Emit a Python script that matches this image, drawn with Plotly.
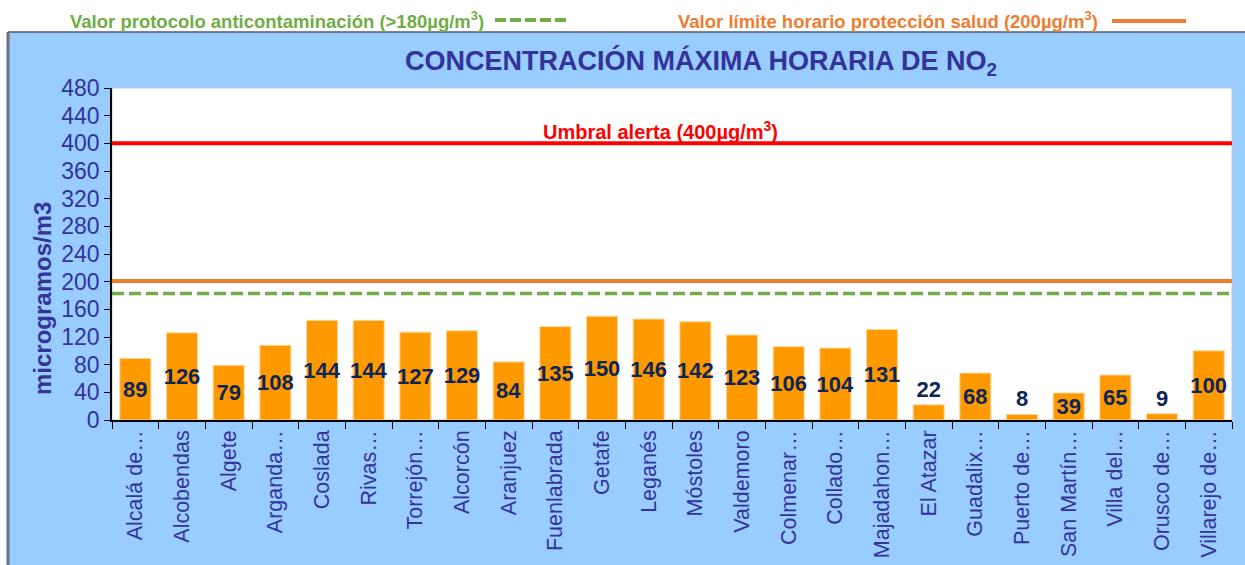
import plotly.graph_objects as go

stations = ["Alcalá de…", "Alcobendas", "Algete", "Arganda…", "Coslada", "Rivas…",
            "Torrejón…", "Alcorcón", "Aranjuez", "Fuenlabrada", "Getafe", "Leganés",
            "Móstoles", "Valdemoro", "Colmenar…", "Collado…", "Majadahon…", "El Atazar",
            "Guadalix…", "Puerto de…", "San Martín…", "Villa del…", "Orusco de…", "Villarejo de…"]
no2_max = [89, 126, 79, 108, 144, 144, 127, 129, 84, 135, 150, 146, 142, 123, 106, 104,
           131, 22, 68, 8, 39, 65, 9, 100]
y_ticks = list(range(0, 481, 40))
alert_level = 400
health_limit = 201
protocol_level = 183

W, H = 1245, 565
L, R, T, B = 112, 13, 88, 145
pw, ph = W - L - R, H - T - B


def px(x):
    return (x - L) / pw


def py(y):
    return (H - B - y) / ph


TXT = "#333399"
LBL = "#0d2557"
FONT = "Liberation Sans"

fig = go.Figure()
fig.add_trace(go.Bar(
    x=stations, y=no2_max, width=0.665,
    marker=dict(color="#FF9900", line=dict(color="#FFD699", width=1)),
    text=[str(v) for v in no2_max],
    textposition=["outside" if v < 30 else "inside" for v in no2_max],
    insidetextanchor="middle",
    textangle=0,
    constraintext="none",
    cliponaxis=False,
    textfont=dict(family=FONT, size=22, color=LBL, weight="bold"),
    showlegend=False,
))

n = len(stations)
for val, col, dash, wdt in [(alert_level, "#FF0000", "solid", 4),
                            (health_limit, "#ED7D31", "solid", 4),
                            (protocol_level, "#70AD47", "12px,5px", 3.5)]:
    fig.add_shape(type="line", xref="x", yref="y", x0=-0.5, x1=n - 0.5, y0=val, y1=val,
                  line=dict(color=col, width=wdt, dash=dash))

shapes_bg = [
    dict(type="rect", xref="paper", yref="paper", x0=px(8), x1=px(1250), y0=py(570), y1=py(32),
         fillcolor="#99CCFF", line=dict(width=0), layer="below"),
    dict(type="rect", xref="paper", yref="paper", x0=0, x1=1, y0=0, y1=1,
         fillcolor="white", line=dict(color="#C8C8C8", width=1), layer="below"),
    dict(type="line", xref="paper", yref="paper", x0=px(8), x1=px(1250), y0=py(32), y1=py(32),
         line=dict(color="#555a66", width=1.5), layer="below"),
    dict(type="line", xref="paper", yref="paper", x0=px(8), x1=px(8), y0=py(32), y1=py(570),
         line=dict(color="#6b7080", width=3), layer="below"),
    dict(type="line", xref="paper", yref="paper", x0=px(495), x1=px(568), y0=py(20), y1=py(20),
         line=dict(color="#70AD47", width=4, dash="11px,4px")),
    dict(type="line", xref="paper", yref="paper", x0=px(1112), x1=px(1186), y0=py(21), y1=py(21),
         line=dict(color="#ED7D31", width=4)),
]
for s in shapes_bg:
    fig.add_shape(**s)

ann = [
    dict(x=px(68), y=py(20), xanchor="left", yanchor="middle",
         text="Valor protocolo anticontaminación (>180µg/m<sup>3</sup>)",
         font=dict(family=FONT, size=18.5, color="#70AD47", weight="bold")),
    dict(x=px(676), y=py(20), xanchor="left", yanchor="middle",
         text="Valor límite horario protección salud (200µg/m<sup>3</sup>)",
         font=dict(family=FONT, size=18.5, color="#ED7D31", weight="bold")),
    dict(x=px(701), y=py(63), xanchor="center", yanchor="middle",
         text="CONCENTRACIÓN MÁXIMA HORARIA DE NO<sub>2</sub>",
         font=dict(family=FONT, size=27, color=TXT, weight="bold")),
    dict(x=px(660), y=py(130), xanchor="center", yanchor="middle",
         text="Umbral alerta (400µg/m<sup>3</sup>)",
         font=dict(family=FONT, size=20, color="#FF0000", weight="bold")),
    dict(x=px(42), y=py(299), xanchor="center", yanchor="middle", textangle=-90,
         text="microgramos/m3",
         font=dict(family=FONT, size=24, color=TXT, weight="bold")),
]
for a in ann:
    fig.add_annotation(xref="paper", yref="paper", showarrow=False, **a)

fig.update_layout(
    width=W, height=H,
    margin=dict(l=L, r=R, t=T, b=B, autoexpand=False),
    paper_bgcolor="white", plot_bgcolor="rgba(0,0,0,0)",
    font=dict(family=FONT, color=TXT),
)
fig.update_xaxes(
    type="category", tickangle=-90, tickson="boundaries", ticks="outside", ticklen=7,
    tickcolor="black", showline=True, linecolor="black", linewidth=1.5,
    tickfont=dict(family=FONT, size=21.5, color=TXT),
    showgrid=False, range=[-0.5, n - 0.5], automargin=False,
)
fig.update_yaxes(
    range=[0, 480], tickvals=y_ticks, ticks="outside", ticklen=6, tickcolor="black",
    showline=True, linecolor="black", linewidth=1.5, showgrid=False, zeroline=False,
    tickfont=dict(family=FONT, size=23, color=TXT), automargin=False,
)

fig.write_html("out.html", config={"displayModeBar": False},
               post_script="document.body.style.margin='0px';document.body.style.overflow='hidden';")
